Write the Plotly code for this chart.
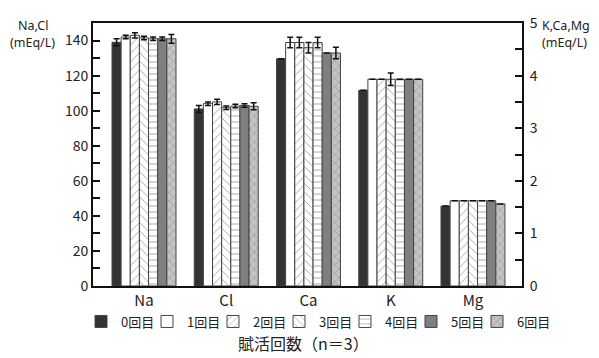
import plotly.graph_objects as go

# Categories and series
categories = ["Na", "Cl", "Ca", "K", "Mg"]
rounds = ["0回目", "1回目", "2回目", "3回目", "4回目", "5回目", "6回目"]

# Left axis (Na, Cl) values in mEq/L with SD
na = [139, 142, 143, 141.5, 141, 141, 141]
na_err = [2, 1, 1.5, 1, 1, 1, 2.5]
cl = [101, 104, 105, 101.7, 102.6, 103, 102.5]
cl_err = [2, 1, 1.5, 1, 1, 1, 2]

# Right axis (Ca, K, Mg) values in mEq/L with SD (None = no error bar)
ca = [4.32, 4.63, 4.63, 4.53, 4.63, 4.43, 4.43]
ca_err = [None, 0.1, 0.1, 0.1, 0.1, None, 0.11]
k = [3.72, 3.93, 3.93, 3.93, 3.93, 3.93, 3.93]
k_err = [None, None, None, 0.12, None, None, None]
mg = [1.52, 1.62, 1.62, 1.62, 1.62, 1.62, 1.56]
mg_err = [None] * 7

left_ticks = [0, 20, 40, 60, 80, 100, 120, 140]
right_ticks = [0, 1, 2, 3, 4, 5]

# Fill styles per round: (background, pattern shape)
styles = [
    ("#333333", ""),
    ("#ffffff", ""),
    ("#ffffff", "/"),
    ("#ffffff", "\\"),
    ("#ffffff", "-"),
    ("#7f7f7f", ""),
    ("#c4c4c4", "x"),
]

FONT = "Noto Sans CJK JP, Noto Sans, sans-serif"
INK = "#222222"

PLOT_L, PLOT_W, PLOT_T, PLOT_H = 93, 429, 12, 274

group_w = 0.778
bar_w = group_w / len(rounds)

# one legend box per round so the row can be laid out evenly
legend_ids = ["legend" if i == 0 else f"legend{i + 1}" for i in range(len(rounds))]

fig = go.Figure()
for i, name in enumerate(rounds):
    bg, shape = styles[i]
    offset = -group_w / 2 + i * bar_w
    marker = dict(
        color=bg,
        line=dict(color="#444444", width=1),
        pattern=dict(shape=shape, fgcolor="#444444", bgcolor=bg,
                     size=6, solidity=0.15),
    )
    err_kw = dict(type="data", visible=True, color="#111111",
                  thickness=1.5, width=3)
    # Na, Cl on left axis
    fig.add_trace(go.Bar(
        x=[0, 1], y=[na[i], cl[i]], name=name, legendgroup=name,
        legend=legend_ids[i],
        width=bar_w, offset=offset, marker=marker,
        error_y=dict(array=[na_err[i], cl_err[i]], **err_kw),
        yaxis="y", showlegend=True,
    ))
    # Ca, K, Mg on right axis
    fig.add_trace(go.Bar(
        x=[2, 3, 4], y=[ca[i], k[i], mg[i]], name=name, legendgroup=name,
        legend=legend_ids[i],
        width=bar_w, offset=offset, marker=marker,
        error_y=dict(array=[ca_err[i], k_err[i], mg_err[i]], **err_kw),
        yaxis="y2", showlegend=False,
    ))


def label(text, x, y_px, anchor):
    # y_px: distance from the top of the page
    return dict(text=text, xref="paper", yref="paper", x=x,
                y=1.0 - (y_px - PLOT_T) / PLOT_H, xanchor=anchor,
                yanchor="middle", showarrow=False,
                font=dict(family="Noto Sans, sans-serif", size=12.5,
                          color=INK))


layout_legends = {}
for i, lid in enumerate(legend_ids):
    left_px = 81 + 66 * i
    layout_legends[lid] = dict(
        orientation="h", x=(left_px - PLOT_L) / PLOT_W, xanchor="left",
        y=-37 / PLOT_H, yanchor="middle", font=dict(size=13, color=INK),
        itemwidth=30, bgcolor="rgba(0,0,0,0)",
    )

fig.update_layout(
    width=599, height=358,
    margin=dict(l=PLOT_L, r=599 - PLOT_L - PLOT_W, t=PLOT_T,
                b=358 - PLOT_T - PLOT_H),
    paper_bgcolor="white", plot_bgcolor="white",
    barmode="overlay",
    font=dict(family=FONT, size=14, color=INK),
    showlegend=True,
    xaxis=dict(
        range=[-0.62, 4.596], tickvals=list(range(len(categories))),
        ticktext=categories, showline=True, linecolor="#111111", linewidth=2,
        mirror=True, ticks="", showgrid=False, zeroline=False,
        tickfont=dict(size=15, color=INK),
    ),
    yaxis=dict(
        range=[0, 150], tickvals=left_ticks, showline=True,
        linecolor="#111111", linewidth=2, ticks="inside", ticklen=7,
        tickwidth=1.5, tickcolor="#111111", showgrid=False, zeroline=False,
        minor=dict(dtick=10, ticks="inside", ticklen=7, tickwidth=1.5,
                   tickcolor="#111111"),
        tickfont=dict(size=14, color=INK),
    ),
    yaxis2=dict(
        range=[0, 5], tickvals=right_ticks, overlaying="y", side="right",
        showline=True, linecolor="#111111", linewidth=2, ticks="inside",
        ticklen=7, tickwidth=1.5, tickcolor="#111111", showgrid=False,
        zeroline=False, ticklabelstandoff=3,
        minor=dict(dtick=0.5, ticks="inside", ticklen=7, tickwidth=1.5,
                   tickcolor="#111111"),
        tickfont=dict(size=14, color=INK),
    ),
    annotations=[
        label("Na,Cl", -0.14, 15, "center"),
        label("(mEq/L)", -0.14, 32.5, "center"),
        label("K,Ca,Mg", 1.042, 15, "left"),
        label("(mEq/L)", 1.042, 32.5, "left"),
        dict(text="賦活回数（n＝3）", xref="paper", yref="paper",
             x=0.49, y=-59 / PLOT_H, xanchor="center", yanchor="middle",
             showarrow=False, font=dict(size=16, color=INK)),
    ],
    **layout_legends,
)

fig.write_html("out.html")
